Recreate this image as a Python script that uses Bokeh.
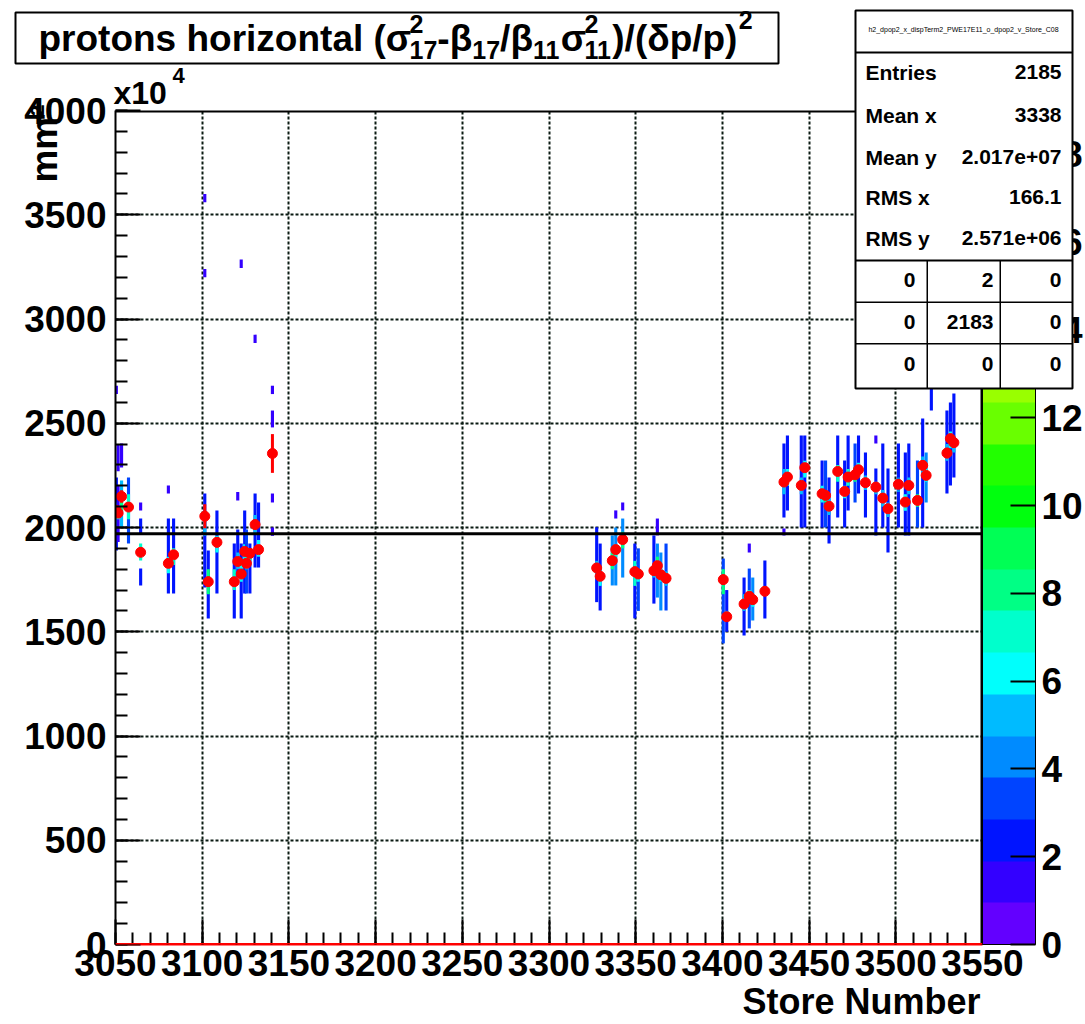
import colorsys
import math
import numpy as np
from bokeh.plotting import figure
from bokeh.models import (ColumnDataSource, Range1d, SingleIntervalTicker, FixedTicker,
                          ColorBar, LinearColorMapper, Span, Label, BoxAnnotation, GridBox, Row)
from bokeh.embed import file_html
from bokeh.resources import INLINE

# ---------------- data ----------------
x_range_lim = (3050, 3550)
y_range_lim = (0, 4000)
z_max = 19
ref_level = 1970          # horizontal reference line (x10^4 mm^2)

# profile (red markers): store number, mean, error
profile_store = [3050, 3051, 3053, 3057, 3064, 3080, 3083, 3101, 3103, 3108, 3118, 3120, 3122,
                 3124, 3125, 3127, 3130, 3132, 3140,
                 3327, 3329, 3336, 3338, 3342, 3349, 3351, 3360, 3362, 3364, 3367,
                 3400, 3402, 3412, 3415, 3417, 3424,
                 3435, 3437, 3445, 3447, 3457, 3459, 3461, 3466, 3470, 3472, 3476, 3478,
                 3482, 3488, 3492, 3495, 3501, 3505, 3507, 3512, 3515, 3517, 3520,
                 3529, 3531, 3533]
profile_mean = [2082, 2069, 2149, 2098, 1881, 1828, 1869, 2054, 1740, 1929, 1740, 1837, 1777,
                1885, 1828, 1876, 2014, 1894, 2355,
                1806, 1766, 1841, 1894, 1942, 1788, 1777, 1793, 1817, 1773, 1756,
                1750, 1572, 1633, 1670, 1654, 1694,
                2218, 2242, 2202, 2287, 2162, 2154, 2102, 2269, 2173, 2242, 2253, 2277,
                2215, 2194, 2141, 2090, 2207, 2122, 2202, 2130, 2298, 2250, 2751,
                2357, 2426, 2407]
profile_err = [20, 20, 30, 20, 20, 20, 20, 57, 25, 25, 20, 20, 20,
               20, 20, 20, 25, 20, 93,
               20, 20, 20, 20, 20, 25, 20, 20, 20, 20, 20,
               25, 20, 20, 20, 20, 20,
               20, 20, 20, 20, 20, 20, 20, 20, 20, 20, 20, 20,
               20, 20, 20, 20, 20, 20, 20, 20, 25, 20, 30,
               25, 25, 25]

# 2D histogram cells: store, low edge, high edge, entries
cell_store = [3050, 3050, 3050, 3051, 3051, 3051, 3053, 3053, 3053, 3057, 3057,
              3064, 3064, 3064, 3064, 3080, 3080, 3080, 3083, 3083,
              3101, 3101, 3101, 3101, 3103, 3103, 3108, 3108, 3118, 3118,
              3120, 3120, 3120, 3122, 3122, 3122, 3124, 3124, 3125, 3125, 3127, 3127,
              3130, 3130, 3130, 3132, 3132, 3140, 3140, 3140, 3140,
              3327, 3327, 3329, 3329, 3336, 3336, 3338, 3338, 3338, 3342, 3342, 3342,
              3349, 3349, 3351, 3351, 3360, 3360, 3362, 3362, 3362, 3364, 3364, 3367, 3367,
              3400, 3400, 3402, 3402, 3412, 3412, 3415, 3415, 3415, 3417, 3417, 3424, 3424,
              3435, 3435, 3435, 3437, 3437, 3445, 3445, 3447, 3447, 3457, 3457, 3459, 3459,
              3461, 3461, 3466, 3466, 3470, 3470, 3472, 3472, 3476, 3476, 3478, 3478,
              3482, 3482, 3488, 3488, 3488, 3492, 3492, 3495, 3495, 3501, 3501, 3505, 3505,
              3507, 3507, 3512, 3512, 3515, 3515, 3517, 3517, 3520, 3520,
              3529, 3529, 3531, 3531, 3533, 3533]
cell_lo = [1890, 2000, 2640, 1930, 2040, 2270, 2288, 2000, 2080, 1923, 2040,
           2082, 1971, 1842, 1722, 2163, 1683, 1780, 1683, 1820,
           1712, 1960, 3560, 3200, 1564, 1680, 1683, 1880, 1564, 1700,
           2130, 1760, 1800, 1564, 1740, 3245, 1683, 1840, 1683, 1800, 1683, 1840,
           1808, 1970, 2885, 1808, 1860, 2640, 2480, 2120, 1960,
           1642, 1760, 1602, 1720, 1722, 1800, 2043, 1722, 1860, 2082, 1760, 1900,
           1564, 1720, 1600, 1740, 1635, 1760, 1962, 1664, 1780, 1602, 1740, 1602, 1720,
           1444, 1680, 1500, 1560, 1482, 1600, 1880, 1516, 1640, 1554, 1620, 1564, 1680,
           2048, 2160, 1962, 2082, 2200, 2000, 2160, 2000, 2240, 2000, 2120, 2000, 2120,
           1923, 2060, 2048, 2220, 2000, 2140, 2082, 2200, 2120, 2220, 2163, 2240,
           2048, 2180, 2403, 1962, 2160, 2000, 2100, 1880, 2050, 2000, 2170, 1962, 2080,
           1962, 2160, 2000, 2100, 2000, 2250, 2120, 2220, 2561, 2700,
           2163, 2320, 2201, 2380, 2240, 2360]
cell_hi = [2240, 2120, 2680, 2200, 2100, 2400, 2403, 2225, 2160, 2240, 2160,
           2120, 2043, 1923, 1803, 2201, 2043, 1860, 2043, 1900,
           2163, 2080, 3600, 3240, 1890, 1800, 2082, 1960, 1923, 1800,
           2170, 1990, 1880, 1923, 1820, 3285, 2082, 1920, 1990, 1860, 1923, 1900,
           2163, 2060, 2925, 2120, 1940, 2680, 2561, 2163, 2000,
           2001, 1840, 1923, 1800, 1962, 1880, 2082, 2000, 1920, 2120, 2043, 1980,
           1923, 1840, 1900, 1800, 1962, 1820, 2043, 1923, 1860, 1880, 1800, 1923, 1790,
           1851, 1800, 1700, 1600, 1760, 1680, 1923, 1803, 1700, 1760, 1680, 1842, 1720,
           2403, 2280, 1995, 2441, 2280, 2441, 2240, 2441, 2320, 2321, 2200, 2321, 2180,
           2240, 2140, 2441, 2300, 2321, 2200, 2441, 2280, 2403, 2290, 2441, 2310,
           2360, 2250, 2441, 2283, 2220, 2403, 2180, 2283, 2120, 2403, 2240, 2360, 2160,
           2403, 2240, 2321, 2160, 2523, 2340, 2360, 2280, 2900, 2800,
           2561, 2400, 2600, 2460, 2643, 2440]
cell_n = [2, 4, 1, 1, 6, 1, 1, 5, 8, 3, 7,
          1, 2, 7, 2, 1, 2, 6, 2, 7,
          2, 5, 1, 1, 2, 8, 2, 6, 2, 7,
          1, 2, 5, 2, 6, 1, 2, 6, 3, 7, 2, 8,
          2, 5, 1, 2, 6, 1, 1, 1, 1,
          2, 5, 2, 6, 4, 8, 1, 4, 7, 1, 4, 8,
          2, 7, 3, 6, 2, 5, 1, 4, 8, 4, 6, 3, 5,
          3, 8, 2, 5, 2, 5, 1, 3, 7, 4, 6, 2, 8,
          2, 5, 1, 2, 6, 2, 5, 2, 6, 2, 6, 3, 8,
          2, 5, 2, 7, 2, 6, 2, 7, 3, 8, 2, 6,
          2, 5, 1, 2, 5, 2, 5, 2, 5, 2, 4, 2, 6,
          2, 5, 3, 8, 2, 5, 4, 6, 2, 5,
          2, 5, 2, 6, 2, 5]

x_major = 50
y_major = 500
cbar_ticks = [0, 2, 4, 6, 8, 10, 12, 14, 16, 18]

title_parts = [("protons horizontal (σ", "n"), (("2", "17"), "stack"), ("-β", "n"), ("17", "sub"),
               ("/β", "n"), ("11", "sub"), ("σ", "n"), (("2", "11"), "stack"),
               (")/(δp/p)", "n"), ("2", "sup")]
x_title = "Store Number"
y_title = "mm²"
y_exponent = ("x10", "4")
hist_name = "h2_dpop2_x_dispTerm2_PWE17E11_o_dpop2_v_Store_C08"
stats_names = ["Entries", "Mean x", "Mean y", "RMS x", "RMS y"]
stats_values = ["2185", "3338", "2.017e+07", "166.1", "2.571e+06"]
table_values = [["0", "2", "0"], ["0", "2183", "0"], ["0", "0", "0"]]

# ---------------- style ----------------
FONT = "Liberation Sans"
W = 1085
H = 1024
FL, FR, FT, FB = 115, 983, 110, 944   # frame edges (canvas px)


def root_pretty(i):
    hue = 280.0 - (i + 1) * 280.0 / 50
    r, g, b = colorsys.hls_to_rgb(hue / 360.0, 0.5, 1.0)
    return "#%02x%02x%02x" % (round(r * 255), round(g * 255), round(b * 255))


ndiv = 20
palette = [root_pretty(int((k + 0.99) * 50 / ndiv)) for k in range(ndiv)]
mapper = LinearColorMapper(palette=palette, low=0, high=z_max)

p = figure(width=W, height=H, x_range=Range1d(*x_range_lim), y_range=Range1d(*y_range_lim),
           output_backend="svg", toolbar_location=None,
           min_border_left=FL, min_border_right=W - FR, min_border_top=FT, min_border_bottom=H - FB)
p.background_fill_color = "white"
p.border_fill_color = "white"
p.outline_line_color = None

for ax in (p.xaxis[0], p.yaxis[0]):
    ax.major_tick_in = 25
    ax.major_tick_out = 0
    ax.minor_tick_in = 12
    ax.minor_tick_out = 0
    ax.major_tick_line_width = 2
    ax.minor_tick_line_width = 2
    ax.major_tick_line_color = "black"
    ax.minor_tick_line_color = "black"
    ax.axis_line_width = 2
    ax.axis_line_color = "black"
    ax.major_label_text_font = FONT
    ax.major_label_text_font_style = "bold"
    ax.major_label_text_font_size = "37px"
    ax.major_label_text_color = "black"
p.xaxis.axis_line_color = "#ff0000"     # empty profile bins drawn along zero cover the bottom edge
p.xaxis.ticker = SingleIntervalTicker(interval=x_major, num_minor_ticks=5)
p.yaxis.ticker = SingleIntervalTicker(interval=y_major, num_minor_ticks=5)
p.xaxis.major_label_standoff = 5
p.yaxis.major_label_standoff = 9

for g in (p.xgrid[0], p.ygrid[0]):
    g.grid_line_color = "#0a1a12"
    g.grid_line_dash = "3 2"
    g.grid_line_width = 2
p.xgrid.ticker = SingleIntervalTicker(interval=x_major)
p.ygrid.ticker = SingleIntervalTicker(interval=y_major)

# 2D histogram cells
cs = np.array(cell_store, dtype=float)
src_cells = ColumnDataSource(dict(left=cs - 0.4, right=cs + 1.4,
                                  bottom=cell_lo, top=cell_hi, n=cell_n))
p.quad(left="left", right="right", bottom="bottom", top="top", source=src_cells,
       fill_color={"field": "n", "transform": mapper}, line_color=None)

# frame top / right edges (left and bottom come from the axis lines)
p.add_layout(Span(location=y_range_lim[1], dimension="width", line_color="black", line_width=4))
p.add_layout(Span(location=x_range_lim[1], dimension="height", line_color="black", line_width=4))

# reference lines
p.add_layout(Span(location=ref_level, dimension="width", line_color="black", line_width=3))
p.add_layout(Span(location=0, dimension="width", line_color="#ff0000", line_width=3, level="overlay"))

# profile
px = np.array(profile_store, dtype=float) + 0.5
pm = np.array(profile_mean, dtype=float)
pe = np.array(profile_err, dtype=float)
src_prof = ColumnDataSource(dict(x=px, y=pm, lo=pm - pe, hi=pm + pe))
p.segment(x0="x", y0="lo", x1="x", y1="hi", source=src_prof, line_color="red", line_width=3)
p.scatter(x="x", y="y", source=src_prof, size=10, fill_color="red", line_color="red")

# colour bar
cb = ColorBar(color_mapper=mapper, width=53, padding=0, margin=0,
              ticker=FixedTicker(ticks=cbar_ticks), major_tick_in=25, major_tick_out=0,
              major_tick_line_color="black", major_tick_line_width=2,
              major_label_text_font=FONT, major_label_text_font_style="bold",
              major_label_text_font_size="37px", major_label_text_color="black",
              label_standoff=6, bar_line_color="black", bar_line_width=1,
              background_fill_color=None, border_line_color=None)
p.add_layout(cb, "right")

# ---------------- overlay canvas (title, stats box, axis titles) ----------------
ov = figure(width=W, height=H, x_range=Range1d(0, W), y_range=Range1d(H, 0),
            output_backend="svg", toolbar_location=None,
            x_axis_location=None, y_axis_location=None, min_border=0)
ov.grid.visible = False
ov.outline_line_color = None
ov.background_fill_color = None
ov.border_fill_color = None

_aligned_opt_out = False
if "frame_align" in ov.properties():
    ov.frame_align = False
    p.frame_align = False
    _aligned_opt_out = True


def box(x0, y0, x1, y1, fill="white", line="black", lw=2):
    ov.add_layout(BoxAnnotation(left=x0, right=x1, top=y0, bottom=y1,
                                fill_color=fill, fill_alpha=1.0 if fill else 0,
                                line_color=line, line_width=lw, line_alpha=1.0 if line else 0))


def text(cx, cy, s, size, bold=True, align="left", baseline="alphabetic", angle=0.0):
    if baseline == "alphabetic":
        cy = cy - (3.5 + 0.23 * size)   # compensate renderer's baseline offset
    ov.add_layout(Label(x=cx, y=cy, text=s,
                        text_font=FONT, text_font_style="bold" if bold else "normal",
                        text_font_size="%dpx" % size, text_color="black",
                        text_align=align, text_baseline=baseline, angle=angle))


# Liberation Sans Bold advance widths (per 1000 em) for the title layout
ADV = {" ": 278, "(": 333, ")": 333, "-": 333, "/": 278, "a": 556, "h": 611, "i": 278, "l": 278,
       "n": 611, "o": 611, "p": 611, "r": 389, "s": 556, "t": 333, "z": 500,
       "σ": 640, "β": 611, "δ": 611}
for d in "0123456789":
    ADV[d] = 556


def adv(s, size):
    return sum(ADV.get(c, 556) for c in s) * size / 1000.0


# title box
box(15, 12, 778, 63)
TS = 37
SS = 25
base = 50
cx = 38
for part, kind in title_parts:
    if kind == "n":
        text(cx, base, part, TS)
        cx += adv(part, TS)
    elif kind == "sub":
        text(cx, base + 9, part, SS)
        cx += adv(part, SS)
    elif kind == "sup":
        text(cx + 1, base - 21, part, SS)
        cx += adv(part, SS)
    else:
        sup, sub = part
        text(cx, base - 17, sup, SS)
        text(cx, base + 9, sub, SS)
        cx += max(adv(sup, SS), adv(sub, SS))

# axis titles
text(980, 1013, x_title, 36, align="right")
text(44, 104, y_title, 37, align="right", baseline="middle", angle=math.pi / 2)
text(113, 103, y_exponent[0], 32)
text(172, 84, y_exponent[1], 22)

# stats box
box(855, 10, 1072, 388)
box(855, 51, 1072, 53, fill="black", line=None, lw=0)
box(855, 259, 1072, 261, fill="black", line=None, lw=0)
box(855, 301, 1072, 302.5, fill="black", line=None, lw=0)
box(855, 342.5, 1072, 344, fill="black", line=None, lw=0)
box(926, 260, 927.5, 388, fill="black", line=None, lw=0)
box(999, 260, 1000.5, 388, fill="black", line=None, lw=0)
text(963, 29, hist_name, 7, bold=False, align="center", baseline="middle")
stat_y = [80, 123, 165, 205, 246]
for name, val, yy in zip(stats_names, stats_values, stat_y):
    text(865, yy, name, 21)
    text(1061, yy, val, 21, align="right")
row_y = [288, 330, 372]
col_x = [915, 993, 1061]
for row, yy in zip(table_values, row_y):
    for v, xx in zip(row, col_x):
        text(xx, yy, v, 21, align="right")

ov_child = ov if _aligned_opt_out else Row(children=[ov])
layout = GridBox(children=[(p, 0, 0), (ov_child, 0, 0)])

open("out.html", "w").write(file_html(layout, INLINE))
